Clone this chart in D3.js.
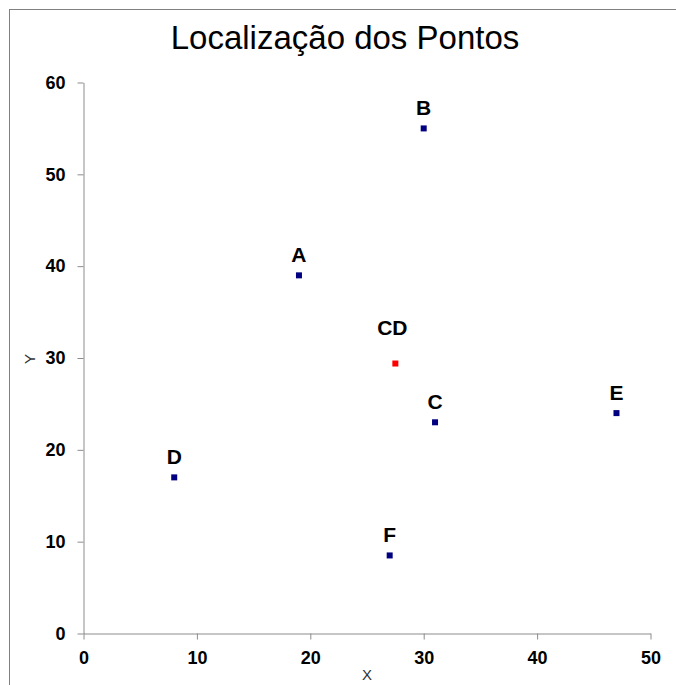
<!DOCTYPE html>
<html><head><meta charset="utf-8">
<script src="https://cdn.jsdelivr.net/npm/d3@7"></script>
<style>body{margin:0;background:#fff}svg{display:block}</style>
</head><body>
<script>
const labels = ["A","B","C","D","E","F","CD"];
const xValues = [19, 30, 31, 8, 47, 27, 27.5];
const yValues = [39, 55, 23, 17, 24, 8.5, 29.4];
const pointColors = ["#000080","#000080","#000080","#000080","#000080","#000080","#ff0000"];
const xTicks = [0,10,20,30,40,50];
const yTicks = [0,10,20,30,40,50,60];

const W = 676, H = 685;
const svg = d3.select("body").append("svg").attr("width", W).attr("height", H)
  .style("font-family","Arial, 'Liberation Sans', sans-serif");

svg.append("rect").attr("x",9.5).attr("y",9.5).attr("width",800).attr("height",800)
  .attr("fill","#fff").attr("stroke","#808080").attr("stroke-width",1);

const x = d3.scaleLinear().domain([0,50]).range([83.5, 650.5]);
const y = d3.scaleLinear().domain([0,60]).range([633.5, 82.5]);

svg.append("text").attr("x",345).attr("y",49).attr("text-anchor","middle")
  .attr("font-size",33).attr("fill","#000").text("Localização dos Pontos");

const xa = svg.append("g").attr("transform",`translate(0,${y(0)})`)
  .call(d3.axisBottom(x).tickValues(xTicks).tickSize(6).tickPadding(12).tickSizeOuter(0));
const ya = svg.append("g").attr("transform",`translate(${x(0)},0)`)
  .call(d3.axisLeft(y).tickValues(yTicks).tickSize(6).tickPadding(12).tickSizeOuter(0));
[xa, ya].forEach(a => {
  a.selectAll("path,line").attr("stroke","#8c8c8c");
  a.selectAll("text").attr("font-size",18).attr("font-weight","bold").attr("fill","#000")
   .attr("font-family","Arial, 'Liberation Sans', sans-serif");
});

svg.append("text").attr("x",367).attr("y",680).attr("text-anchor","middle")
  .attr("font-size",15).attr("fill","#333").text("X");
svg.append("text").attr("transform","translate(35,359) rotate(-90)").attr("text-anchor","middle")
  .attr("font-size",15).attr("fill","#333").text("Y");

const data = labels.map((l,i)=>({l, x:xValues[i], y:yValues[i], c:pointColors[i]}));
svg.selectAll("rect.pt").data(data).enter().append("rect").attr("class","pt")
  .attr("x",d=>x(d.x)-3).attr("y",d=>y(d.y)-3).attr("width",6).attr("height",6)
  .attr("fill",d=>d.c);
svg.selectAll("text.lbl").data(data).enter().append("text").attr("class","lbl")
  .attr("x",d=>x(d.x) + (d.l==="CD" ? -3 : 0))
  .attr("y",d=>y(d.y) - (d.l==="CD" ? 29 : 13)).attr("text-anchor","middle")
  .attr("font-size",21).attr("font-weight","bold").attr("fill","#000").text(d=>d.l);
</script>
</body></html>
